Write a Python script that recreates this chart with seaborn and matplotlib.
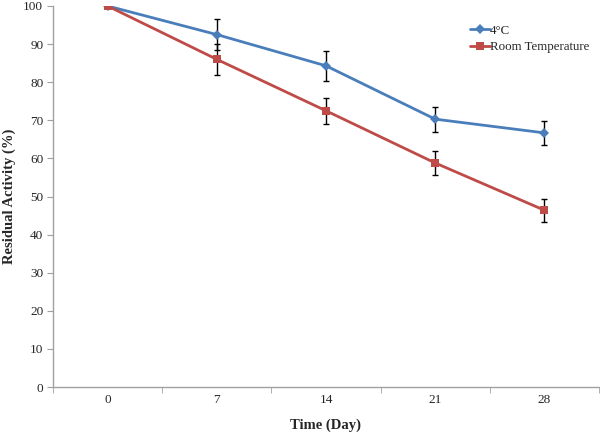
import numpy as np
import pandas as pd
import matplotlib
matplotlib.use("Agg")
import matplotlib.pyplot as plt
import seaborn as sns

# ── Données ───────────────────────────────────────────────────────────────────
days = ["0", "7", "14", "21", "28"]
cold_mean = [100.0, 92.5, 84.3, 70.3, 66.7]
cold_err = [0.0, 4.0, 4.0, 3.3, 3.1]
room_mean = [100.0, 86.0, 72.5, 58.8, 46.4]
room_err = [0.0, 4.0, 3.4, 3.2, 3.0]
series_names = ["4°C", "Room Temperature"]

BLUE = "#4a7ebb"
RED = "#be4b48"

sns.set_style("white")
plt.rcParams["font.family"] = ["Liberation Serif", "DejaVu Serif"]

pos = np.arange(len(days))
df = pd.DataFrame({
    "pos": np.concatenate([pos, pos]),
    "value": cold_mean + room_mean,
    "series": [series_names[0]] * len(days) + [series_names[1]] * len(days),
})

fig = plt.figure(figsize=(6.0, 4.33), dpi=100)
ax = fig.add_axes([53 / 600, 46 / 433, 546 / 600, 381 / 433])

# barres d'erreur d'abord (sous les marqueurs)
ax.errorbar(pos, cold_mean, yerr=cold_err, fmt="none", ecolor="black",
            elinewidth=1, capsize=2.5, capthick=1, zorder=2)
ax.errorbar(pos, room_mean, yerr=room_err, fmt="none", ecolor="black",
            elinewidth=1, capsize=2.5, capthick=1, zorder=2)

sns.lineplot(data=df, x="pos", y="value", hue="series", style="series",
             palette=[BLUE, RED], markers=["D", "s"], dashes=False,
             markersize=5.5, markeredgewidth=0, linewidth=2, ax=ax, zorder=3)

ax.set_xlim(-0.5, len(days) - 0.5)
ax.set_ylim(0, 100)
ax.set_yticks(range(0, 101, 10))
ax.set_xticks(pos)
ax.set_xticklabels(days)
ax.set_xticks(np.arange(-0.5, len(days), 1.0), minor=True)
ax.tick_params(axis="x", which="major", length=0, pad=5, labelsize=9.5)
ax.tick_params(axis="x", which="minor", length=4, color="#a0a0a0",
               direction="out", bottom=True)
ax.tick_params(axis="y", length=4, color="#a0a0a0", direction="out",
               left=True, labelsize=9.5, pad=3)

for side in ["top", "right"]:
    ax.spines[side].set_visible(False)
for side in ["left", "bottom"]:
    ax.spines[side].set_color("#a0a0a0")
    ax.spines[side].set_linewidth(1)

ax.set_xlabel("Time (Day)", fontsize=10.5, fontweight="bold")
ax.xaxis.set_label_coords(0.5, -0.083)
ax.set_ylabel("Residual Activity (%)", fontsize=10.5, fontweight="bold")
ax.yaxis.set_label_coords(-0.068, 0.5)

leg = ax.legend(loc="upper left", bbox_to_anchor=(0.755, 0.965), frameon=False,
                fontsize=9.3, handlelength=1.5, handletextpad=0.0,
                labelspacing=0.35, borderaxespad=0)
for h in leg.legend_handles:
    h.set_linewidth(2)

fig.savefig("out.png", dpi=100)
